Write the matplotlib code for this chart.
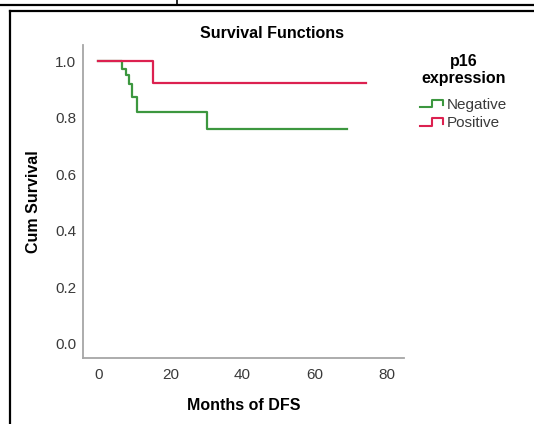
import matplotlib
matplotlib.use('Agg')
import matplotlib.pyplot as plt
from matplotlib.lines import Line2D
from matplotlib.legend_handler import HandlerBase

plt.rcParams['font.family'] = ['Liberation Sans', 'DejaVu Sans']

# Kaplan-Meier steps
neg_time = [0, 6.7, 7.6, 8.5, 9.5, 10.7, 30.1, 68.9]
neg_surv = [1.0, 0.974, 0.950, 0.921, 0.873, 0.821, 0.762, 0.762]
pos_time = [0, 15.1, 74.2]
pos_surv = [1.0, 0.923, 0.923]

groups = ['Negative', 'Positive']
colors = {'Negative': '#3c973f', 'Positive': '#dc2150'}

x_ticks = [0, 20, 40, 60, 80]
y_ticks = [0.0, 0.2, 0.4, 0.6, 0.8, 1.0]


class StepHandler(HandlerBase):
    # legend icon drawn as a little step, like SPSS does
    def create_artists(self, legend, orig_handle, xdescent, ydescent,
                       width, height, fontsize, trans):
        w, h = width, height
        xs = [0, w * 0.45, w * 0.45, w * 0.9, w * 0.9]
        ys = [h * 0.15, h * 0.15, h * 0.85, h * 0.85, h * 0.35]
        ln = Line2D([x - xdescent for x in xs], [y - ydescent for y in ys],
                    color=orig_handle.get_color(), lw=1.5)
        ln.set_transform(trans)
        return [ln]


fig = plt.figure(figsize=(5.34, 4.24), dpi=100)
ax = fig.add_axes([0.1554, 0.156, 0.6012, 0.738])

h_neg, = ax.step(neg_time, neg_surv, where='post', color=colors['Negative'], lw=1.6)
h_pos, = ax.step(pos_time, pos_surv, where='post', color=colors['Positive'], lw=1.6)

ax.set_xlim(-4.2, 84.7)
ax.set_ylim(-0.05, 1.058)
ax.set_xticks(x_ticks)
ax.set_yticks(y_ticks)
ax.set_yticklabels(['%.1f' % v for v in y_ticks])
ax.tick_params(length=0, labelsize=11, colors='#3a3a3a')
ax.tick_params(axis='x', pad=7)
ax.tick_params(axis='y', pad=5)
for s in ['top', 'right']:
    ax.spines[s].set_visible(False)
for s in ['left', 'bottom']:
    ax.spines[s].set_color('#a6a6a6')
    ax.spines[s].set_linewidth(1.3)

ax.set_xlabel('Months of DFS', fontsize=11.5, fontweight='bold', labelpad=12)
ax.set_ylabel('Cum Survival', fontsize=11.5, fontweight='bold', labelpad=10)
fig.text(0.51, 0.92, 'Survival Functions', fontsize=11.5, fontweight='bold',
         ha='center', va='center')

leg = fig.legend([h_neg, h_pos], groups, handler_map={Line2D: StepHandler()},
                 title='p16\nexpression', loc='upper left',
                 bbox_to_anchor=(0.775, 0.888), frameon=False,
                 fontsize=11, handlelength=1.7, handletextpad=0.05,
                 labelspacing=0.3, borderaxespad=0)
leg.get_title().set_fontweight('bold')
leg.get_title().set_fontsize(11.5)
leg.get_title().set_multialignment('center')
leg._legend_box.align = 'center'
leg._legend_box.sep = 8.5
for t in leg.get_texts():
    t.set_color('#3a3a3a')

# page frame around the figure (from the document it was cut out of)
fig.add_artist(Line2D([0, 1], [1 - 5 / 424, 1 - 5 / 424], color='black', lw=1.6,
                      transform=fig.transFigure))
fig.add_artist(Line2D([9.5 / 534, 1], [1 - 10.5 / 424, 1 - 10.5 / 424], color='black',
                      lw=1.6, transform=fig.transFigure))
fig.add_artist(Line2D([9.5 / 534, 9.5 / 534], [0, 1 - 10.5 / 424], color='black',
                      lw=1.6, transform=fig.transFigure))
fig.add_artist(Line2D([177 / 534, 177 / 534], [1 - 5 / 424, 1], color='black',
                      lw=1.2, transform=fig.transFigure))

fig.savefig('out.png', dpi=100)
